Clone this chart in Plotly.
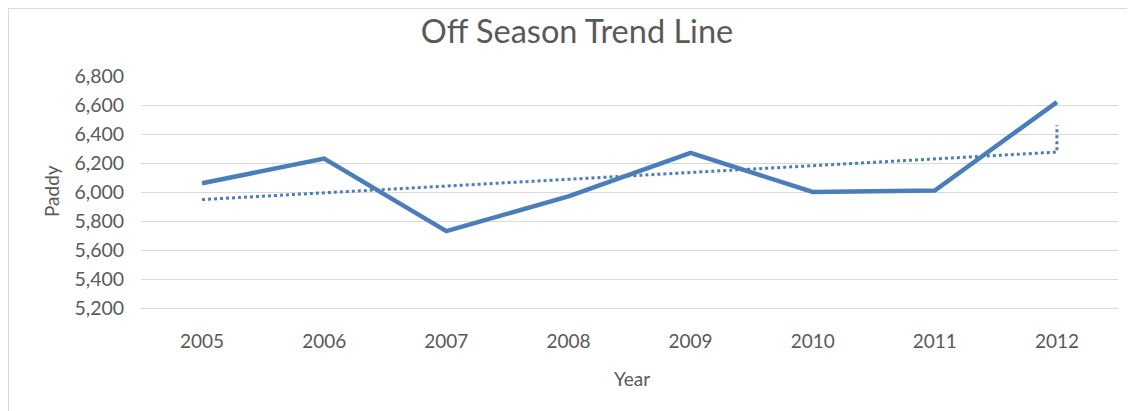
import numpy as np
import plotly.graph_objects as go

years = ["2005", "2006", "2007", "2008", "2009", "2010", "2011", "2012"]
paddy = [6060, 6230, 5730, 5970, 6270, 6000, 6010, 6620]
y_ticks = [5200, 5400, 5600, 5800, 6000, 6200, 6400, 6600, 6800]
trend_spike_top = 6460  # short vertical dotted stub drawn at the end of the trendline

# linear trendline (least squares) like Excel's
xi = np.arange(1, len(paddy) + 1)
slope, intercept = np.polyfit(xi, paddy, 1)
trend = list(slope * xi + intercept)

blue = "#4a7ebb"
grey_txt = "#595959"
grid = "#d9d9d9"
FONT = "Lato"

fig = go.Figure()
fig.add_trace(go.Scatter(
    x=years + [years[-1]], y=trend + [trend_spike_top], mode="lines",
    line=dict(color=blue, width=3, dash="dot"), hoverinfo="skip", showlegend=False))
fig.add_trace(go.Scatter(
    x=years, y=paddy, mode="lines",
    line=dict(color=blue, width=4.5), showlegend=False))

OFF = 8  # page body margin offset
W, H = 1135 - OFF, 411 - OFF
L, R, T, B = 141 - OFF, 1118 - OFF, 76 - OFF, 308 - OFF

def px(xp):
    return (xp - OFF - L) / (R - L)

def py(yp):
    return (B - (yp - OFF)) / (B - T)

fig.update_layout(
    width=W, height=H,
    margin=dict(l=L, r=W - R, t=T, b=H - B),
    paper_bgcolor="white", plot_bgcolor="white",
    font=dict(family=FONT, color=grey_txt, size=19),
    title=dict(text="Off Season Trend Line", font=dict(family=FONT, size=32.5, color=grey_txt),
               xref="container", yref="container", x=(577 - OFF) / W, y=1 - (32 - OFF) / H,
               xanchor="center", yanchor="middle"),
    xaxis=dict(type="category", range=[-0.5, len(years) - 0.5], showgrid=False,
               showline=True, linecolor=grid, linewidth=1,
               ticks="outside", ticklen=16, tickcolor="rgba(0,0,0,0)",
               tickfont=dict(family=FONT, size=19, color=grey_txt), zeroline=False,
               fixedrange=True),
    yaxis=dict(range=[5200, 6800], tickvals=y_ticks, tickformat=",", showgrid=True,
               gridcolor=grid, gridwidth=1, zeroline=False, showline=False,
               ticks="outside", ticklen=12, tickcolor="rgba(0,0,0,0)",
               tickfont=dict(family=FONT, size=19.5, color=grey_txt), fixedrange=True),
    annotations=[
        dict(text="Paddy", xref="paper", yref="paper", x=px(51), y=py(191), textangle=-90,
             showarrow=False, xanchor="center", yanchor="middle",
             font=dict(family=FONT, size=19, color=grey_txt)),
        dict(text="Year", xref="paper", yref="paper", x=px(632), y=py(379),
             showarrow=False, xanchor="center", yanchor="middle",
             font=dict(family=FONT, size=19, color=grey_txt)),
    ],
    shapes=[dict(type="rect", xref="paper", yref="paper", x0=px(8.5), x1=px(1145),
                 y0=py(430), y1=py(8.5), line=dict(color=grid, width=1), layer="below")],
)

fig.write_html("out.html", config={"displayModeBar": False})
